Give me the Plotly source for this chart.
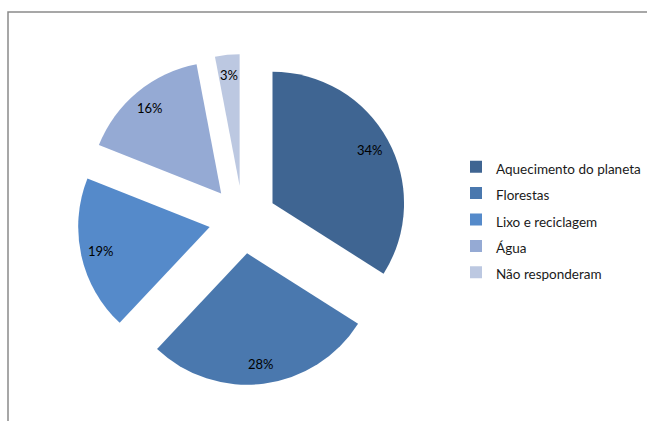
import math
import plotly.graph_objects as go

categories = ["Aquecimento do planeta", "Florestas", "Lixo e reciclagem", "Água", "Não responderam"]
values = [34, 28, 19, 16, 3]
colors = ["#3F6592", "#4A78AE", "#558ACA", "#95AAD4", "#BCC8E1"]
pull_frac = 0.258

W, H = 647, 421

# target pie geometry in pixels (centre of un-pulled pie, slice radius)
cx_px, cy_px, r_px = 242.8, 219.6, 131.5
# plotly: r = half_domain / (1 + max pull), centre = domain centre
half = r_px * (1 + pull_frac)
dom_x = [(cx_px - half) / W, (cx_px + half) / W]
dom_y = [(H - (cy_px + half)) / H, (H - (cy_px - half)) / H]

legend_labels = ["<span style='font-size:13.5px'>%s</span>" % c for c in categories]

fig = go.Figure(go.Pie(
    labels=legend_labels,
    values=values,
    sort=False,
    direction="clockwise",
    rotation=0,
    pull=[pull_frac] * len(values),
    marker=dict(colors=colors, line=dict(width=0)),
    textinfo="none",
    domain=dict(x=dom_x, y=dom_y),
    hovertemplate="%{label}: %{value}%<extra></extra>",
))

# percentage labels placed along each slice's mid-angle
total = sum(values)
cum = 0.0
annotations = []
for v in values:
    mid = (cum + v / 2) / total * 2 * math.pi
    cum += v
    dist = (pull_frac + 0.845) * r_px
    px = cx_px + dist * math.sin(mid)
    py = cy_px - dist * math.cos(mid)
    annotations.append(dict(
        x=px / W, y=(H - py) / H, xref="paper", yref="paper",
        text="%d%%" % v, showarrow=False,
        font=dict(family="Lato, Calibri, sans-serif", size=13, color="#000000"),
        xanchor="center", yanchor="middle",
    ))

fig.update_layout(
    width=W, height=H,
    margin=dict(l=0, r=0, t=0, b=0),
    paper_bgcolor="white",
    plot_bgcolor="white",
    showlegend=True,
    legend=dict(
        x=456 / W, xanchor="left",
        y=(H - 219.5) / H, yanchor="middle",
        font=dict(family="Lato, Calibri, sans-serif", size=18, color="#1a1a1a"),
        itemwidth=30,
        bgcolor="rgba(0,0,0,0)",
    ),
    annotations=annotations,
    shapes=[dict(type="rect", xref="paper", yref="paper",
                 x0=8 / W, x1=1.2, y0=-0.2, y1=(H - 12) / H,
                 line=dict(color="#8a8a8a", width=1.5), fillcolor="rgba(0,0,0,0)")],
)

fig.write_html("out.html", config={"displayModeBar": False},
               post_script="document.body.style.margin='0';document.body.style.overflow='hidden';")
